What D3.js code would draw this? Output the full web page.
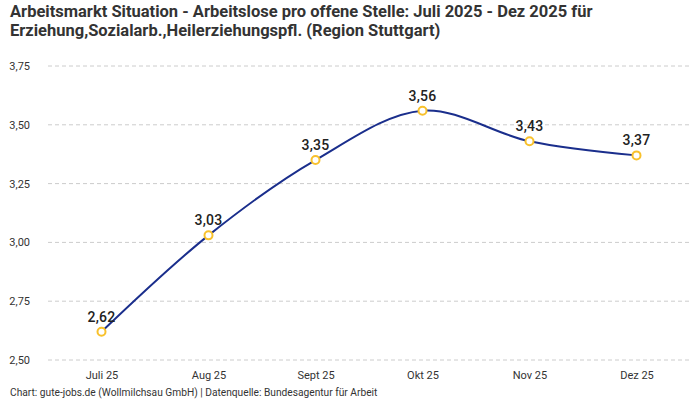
<!DOCTYPE html>
<html>
<head>
<meta charset="utf-8">
<script src="https://cdn.jsdelivr.net/npm/d3@7"></script>
<style>
  body { margin: 0; background: #fff; }
  svg { font-family: "Roboto", "Noto Sans", sans-serif; }
</style>
</head>
<body>
<svg id="chart" width="700" height="400"></svg>
<script>
const months = ["Juli 25", "Aug 25", "Sept 25", "Okt 25", "Nov 25", "Dez 25"];
const values = [2.62, 3.03, 3.35, 3.56, 3.43, 3.37];
const yTicks = [2.5, 2.75, 3.0, 3.25, 3.5, 3.75];
const titleLines = [
  "Arbeitsmarkt Situation - Arbeitslose pro offene Stelle: Juli 2025 - Dez 2025 für",
  "Erziehung,Sozialarb.,Heilerziehungspfl. (Region Stuttgart)"
];
const footer = "Chart: gute-jobs.de (Wollmilchsau GmbH) | Datenquelle: Bundesagentur für Arbeit";

const svg = d3.select("#chart");
const fmt = v => d3.format(".2f")(v).replace(".", ",");

const x = d3.scalePoint().domain(months).range([48, 690]).padding(0.5);
const y = d3.scaleLinear().domain([2.5, 3.75]).range([360, 66]);

// Titel
svg.append("text")
  .attr("x", 10).attr("y", 17)
  .attr("font-size", "16.5px").attr("font-weight", "bold").attr("fill", "#333")
  .selectAll("tspan").data(titleLines).join("tspan")
  .attr("x", 10).attr("dy", (d, i) => i ? 19 : 0)
  .text(d => d);

// Gitter
svg.append("g").selectAll("line").data(yTicks).join("line")
  .attr("x1", 48).attr("x2", 690)
  .attr("y1", d => y(d)).attr("y2", d => y(d))
  .attr("stroke", "#ccc").attr("stroke-dasharray", "4,3");

// Y-Achse
svg.append("g").attr("transform", "translate(33,0)")
  .call(d3.axisLeft(y).tickValues(yTicks).tickFormat(fmt).tickSize(0))
  .call(g => g.select(".domain").remove())
  .call(g => g.selectAll("text").attr("font-size", "11px").attr("fill", "#333")
    .attr("font-family", "Roboto, sans-serif"));

// X-Achse
svg.append("g").attr("transform", "translate(0,368)")
  .call(d3.axisBottom(x).tickSize(0))
  .call(g => g.select(".domain").remove())
  .call(g => g.selectAll("text").attr("font-size", "11px").attr("fill", "#333")
    .attr("font-family", "Roboto, sans-serif"));

// Linie
const line = d3.line()
  .x((d, i) => x(months[i]))
  .y(d => y(d))
  .curve(d3.curveCatmullRom.alpha(0.5));

svg.append("path").datum(values)
  .attr("d", line)
  .attr("fill", "none")
  .attr("stroke", "#1a2e8c")
  .attr("stroke-width", 2);

// Punkte
svg.append("g").selectAll("circle").data(values).join("circle")
  .attr("cx", (d, i) => x(months[i]))
  .attr("cy", d => y(d))
  .attr("r", 4)
  .attr("fill", "#fff")
  .attr("stroke", "#f8c12c")
  .attr("stroke-width", 2);

// Werte
svg.append("g").selectAll("text").data(values).join("text")
  .attr("x", (d, i) => x(months[i]))
  .attr("y", d => y(d) - 10)
  .attr("text-anchor", "middle")
  .attr("font-size", "14px").attr("font-weight", "500").attr("fill", "#222")
  .attr("letter-spacing", "0.3px")
  .text(fmt);

// Quelle
svg.append("text")
  .attr("x", 10).attr("y", 396)
  .attr("font-size", "10.2px").attr("fill", "#333")
  .text(footer);
</script>
</body>
</html>
